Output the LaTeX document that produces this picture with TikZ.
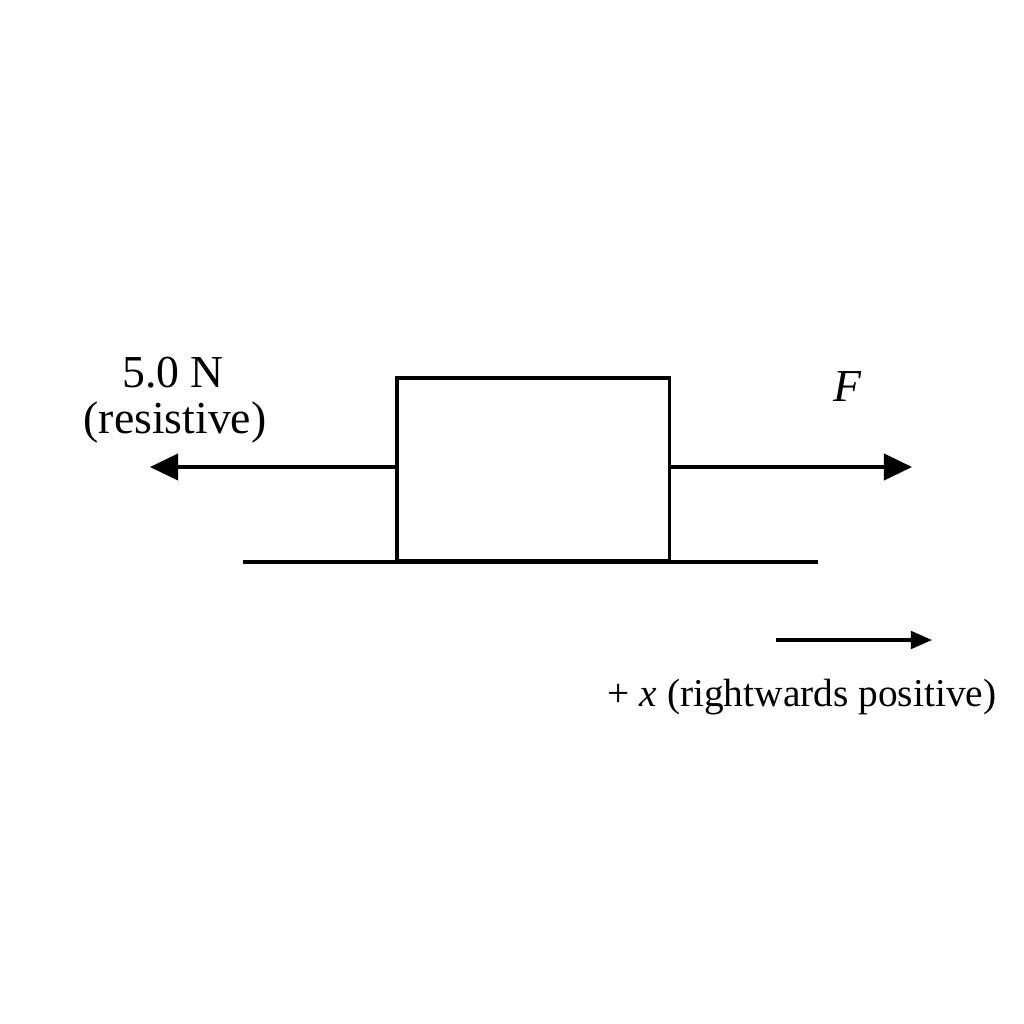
\documentclass[tikz,border=0pt]{standalone}
\usepackage{fontspec}
\setmainfont{Liberation Serif}
\usetikzlibrary{arrows.meta}
\begin{document}
\begin{tikzpicture}[x=0.01cm,y=-0.01cm,
  ln/.style={line width=0.9pt},
  force/.style={ln,-{Triangle[length=8pt,width=7.5pt]}},
  lbl/.style={inner sep=0pt,font=\fontsize{13pt}{15pt}\selectfont}]
\useasboundingbox (0,0) rectangle (1024,1024);
\node[draw,ln,minimum width=2.72cm,minimum height=1.83cm,inner sep=0pt] (box) at (533,469.5) {};
\coordinate (tl) at (150,467);
\coordinate (tr) at (912,467);
\coordinate (g1) at (243,562);
\coordinate (g2) at (818,562);
\draw[line width=1.2pt] (g1) -- (g2);
\draw[force] (box.west |- tl) -- (tl);
\draw[force] (box.east |- tr) -- (tr);
\node[lbl] (fn) at (173,373) {5.0 N};
\node[lbl] (res) at (175,423) {(resistive)};
\node[lbl] (F) at (848,387) {\textit{F}};
\coordinate (a1) at (776,640);
\coordinate (a2) at (932,640);
\draw[ln,-{Triangle[length=6pt,width=5pt]}] (a1) -- (a2);
\node[lbl,font=\fontsize{11.2pt}{13pt}\selectfont] (xl) at (802,697) {+ \textit{x} (rightwards positive)};
\end{tikzpicture}
\end{document}
